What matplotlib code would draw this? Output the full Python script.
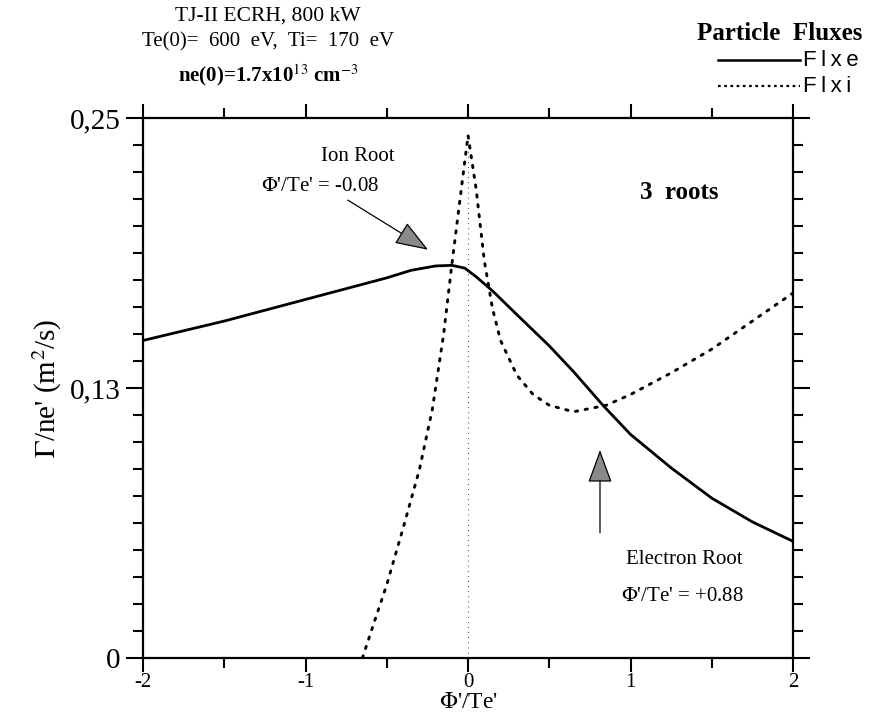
import numpy as np
import matplotlib.pyplot as plt
from matplotlib.ticker import MultipleLocator, FixedLocator, FixedFormatter

plt.rcParams['font.family'] = ['Liberation Serif', 'DejaVu Serif']
plt.rcParams['mathtext.fontset'] = 'stix'
plt.rcParams['axes.unicode_minus'] = False

# Electron particle flux (solid curve)
x_e = [-2.0, -1.5, -1.0, -0.5, -0.35, -0.2, -0.1, -0.02, 0.05, 0.15, 0.3, 0.5, 0.65, 0.83, 1.0, 1.25, 1.5, 1.75, 2.0]
flxe = [0.147, 0.156, 0.166, 0.176, 0.1795, 0.1815, 0.1818, 0.1805, 0.1765, 0.170, 0.159, 0.1445, 0.1325, 0.117, 0.1035, 0.088, 0.074, 0.063, 0.054]

# Ion particle flux (dotted curve)
x_i = [-0.65, -0.58, -0.5, -0.4, -0.3, -0.22, -0.15, -0.1, -0.05, 0.0, 0.05, 0.1, 0.15, 0.2, 0.3, 0.4, 0.5, 0.65, 0.85, 1.0, 1.25, 1.5, 1.75, 2.0]
flxi = [0.0, 0.016, 0.034, 0.060, 0.087, 0.115, 0.150, 0.182, 0.212, 0.242, 0.217, 0.184, 0.162, 0.147, 0.131, 0.122, 0.117, 0.114, 0.117, 0.122, 0.132, 0.143, 0.156, 0.169]

y_ticks = [0, 0.125, 0.25]
y_tick_labels = ['0', '0,13', '0,25']
x_ticks = [-2, -1, 0, 1, 2]

fig = plt.figure(figsize=(8.69, 7.17), dpi=100)
ax = fig.add_axes([0.1646, 0.0823, 0.748, 0.7531])

ax.plot(x_e, flxe, color='black', lw=2.0, solid_capstyle='round', solid_joinstyle='round')
ax.plot(x_i, flxi, color='black', lw=2.1, linestyle=(0, (0.8, 2.6)), dash_capstyle='round')
ax.plot([0, 0], [0, 0.243], color='black', lw=0.8, linestyle=(0, (0.6, 4)))

ax.set_xlim(-2, 2)
ax.set_ylim(0, 0.25)

ax.xaxis.set_major_locator(FixedLocator(x_ticks))
ax.xaxis.set_minor_locator(MultipleLocator(0.5))
ax.yaxis.set_major_locator(FixedLocator(y_ticks))
ax.yaxis.set_major_formatter(FixedFormatter(y_tick_labels))
ax.yaxis.set_minor_locator(MultipleLocator(0.0125))

ax.tick_params(which='both', direction='out', top=True, right=True, width=1.5)
ax.tick_params(which='major', length=12)
ax.tick_params(which='minor', length=7)
ax.tick_params(axis='x', which='major', length=10, labelsize=15, pad=1)
ax.tick_params(axis='y', which='major', labelsize=21, pad=4)
for s in ax.spines.values():
    s.set_linewidth(1.6)

ax.set_xlabel("$\\Phi$'/Te'", fontsize=17, labelpad=0)
ax.set_ylabel("$\\Gamma$/ne' (m$^2$/s)", fontsize=21, labelpad=4)

# root markers
arrow = dict(arrowstyle='-|>,head_length=1.5,head_width=0.55', mutation_scale=14,
             facecolor='#8a8a8a', edgecolor='black', lw=0.9, shrinkA=0, shrinkB=0)
ax.annotate('', xy=(-0.246, 0.189), xytext=(-0.74, 0.212), arrowprops=arrow)
ax.annotate('', xy=(0.812, 0.0963), xytext=(0.812, 0.058), arrowprops=arrow)

ax.text(-0.68, 0.232, 'Ion Root', fontsize=15, ha='center', va='center')
ax.text(-0.91, 0.2185, "$\\Phi$'/Te' = -0.08", fontsize=15, ha='center', va='center')
ax.text(1.33, 0.0454, 'Electron Root', fontsize=15, ha='center', va='center')
ax.text(1.32, 0.0287, "$\\Phi$'/Te' = +0.88", fontsize=15, ha='center', va='center')
ax.text(1.30, 0.2153, '3  roots', fontsize=18, fontweight='bold', ha='center', va='center')

# header text
fig.text(268 / 869, 1 - 16 / 717, 'TJ-II ECRH, 800 kW', fontsize=15.5, ha='center', va='center')
fig.text(268 / 869, 1 - 42 / 717, 'Te(0)=  600  eV,  Ti=  170  eV', fontsize=15, ha='center', va='center')
fig.text(268 / 869, 1 - 75 / 717, 'ne(0)=1.7x10$^{13}$ cm$^{-3}$', fontsize=15, fontweight='bold',
         ha='center', va='center')

fig.text(862 / 869, 1 - 34 / 717, 'Particle  Fluxes', fontsize=18, fontweight='bold', ha='right', va='center')
fig.add_artist(plt.Line2D([718 / 869, 800 / 869], [1 - 60 / 717] * 2, color='black', lw=1.8))
fig.add_artist(plt.Line2D([718 / 869, 800 / 869], [1 - 86 / 717] * 2, color='black', lw=1.6,
                          linestyle=(0, (1.2, 1.6))))
fig.text(803 / 869, 1 - 60 / 717, 'F\u2009l\u2009x\u2009e', fontsize=16, family='Liberation Sans',
         ha='left', va='center')
fig.text(803 / 869, 1 - 86 / 717, 'F\u2009l\u2009x\u2009i', fontsize=16, family='Liberation Sans',
         ha='left', va='center')

fig.savefig('out.png', dpi=100)
